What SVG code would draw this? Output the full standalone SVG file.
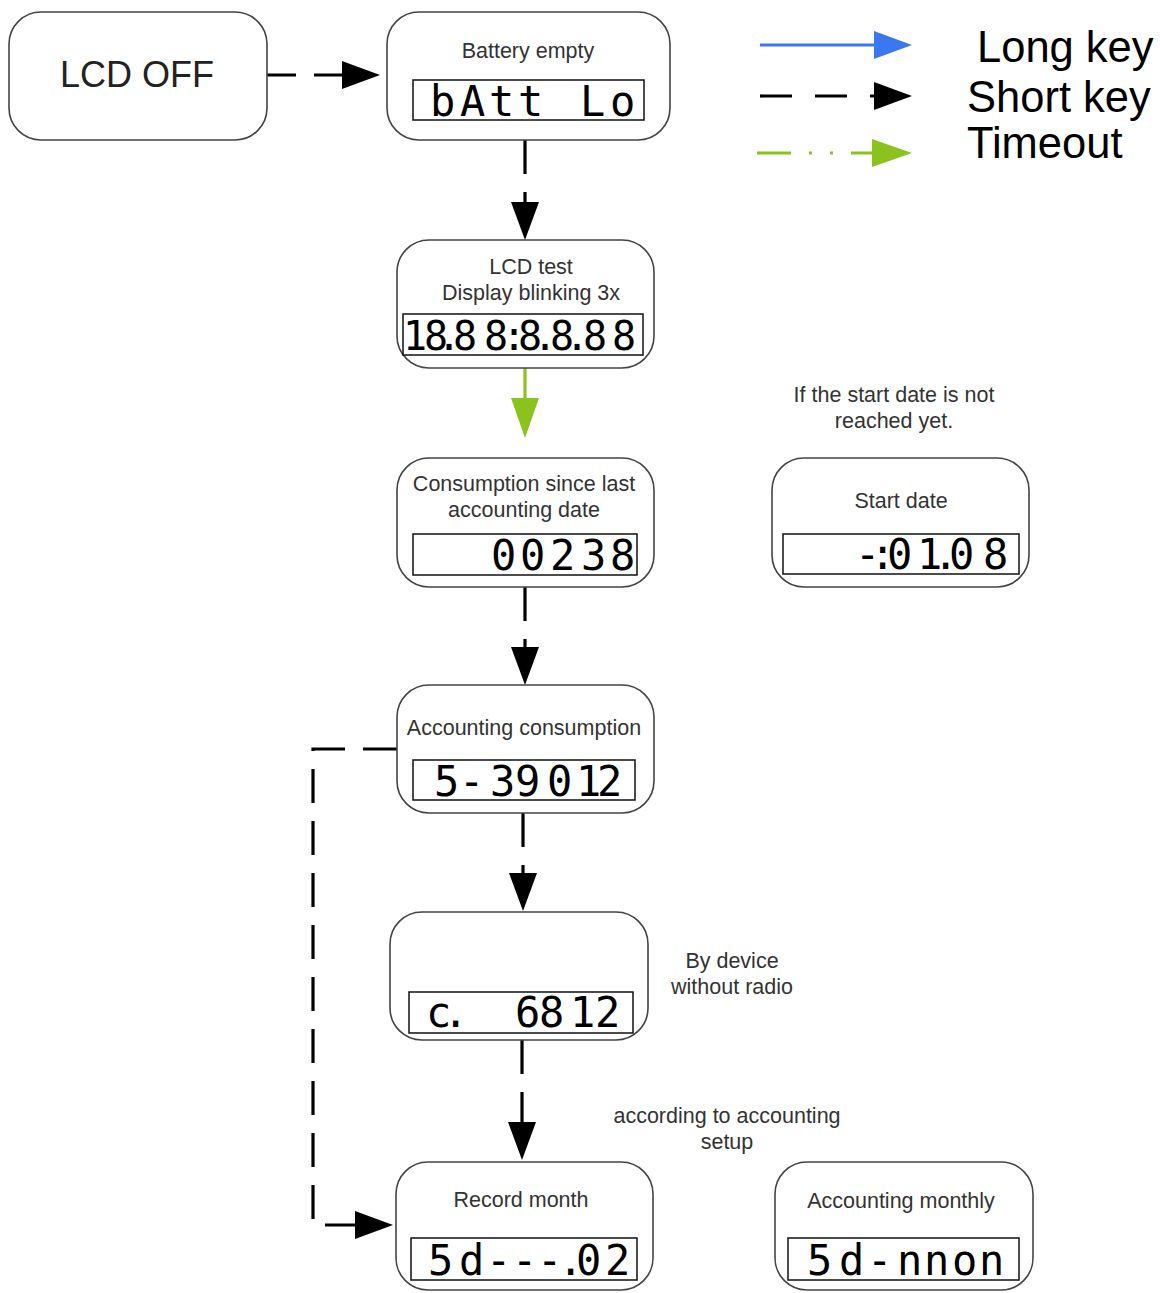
<svg xmlns="http://www.w3.org/2000/svg" width="1160" height="1293" viewBox="0 0 1160 1293">
<style>
.box{fill:#fff;stroke:#444;stroke-width:1.6}
.lcd{fill:#fff;stroke:#111;stroke-width:1.5}
.lbl{font-family:"Liberation Sans",Arial,sans-serif;font-size:21.5px;fill:#333;text-anchor:middle}
.seg{font-family:"DejaVu Sans Mono","Liberation Mono",monospace;font-size:42px;fill:#000}
.leg{font-family:"Liberation Sans",Arial,sans-serif;font-size:43.5px;fill:#000}
.short{fill:none;stroke:#000;stroke-width:3.2;stroke-dasharray:34 18}
.long{fill:none;stroke:#3b78f0;stroke-width:3.2}
.tout{fill:none;stroke:#8cc21e;stroke-width:3.2;stroke-dasharray:30 18 3 22 3 19}
</style>
<defs>
<marker id="ak" markerUnits="userSpaceOnUse" markerWidth="40" markerHeight="30" refX="28" refY="14" orient="auto"><path d="M0,0 L38,14 L0,28 Z" fill="#000"/></marker>
<marker id="ab" markerUnits="userSpaceOnUse" markerWidth="40" markerHeight="30" refX="28" refY="14" orient="auto"><path d="M0,0 L38,14 L0,28 Z" fill="#3b78f0"/></marker>
<marker id="ag" markerUnits="userSpaceOnUse" markerWidth="42" markerHeight="30" refX="30" refY="14" orient="auto"><path d="M0,0 L40,14 L0,28 Z" fill="#8cc21e"/></marker>
</defs>
<rect width="1160" height="1293" fill="#fff"/>

<g id="connectors">
<path class="short" d="M262,75 H370" marker-end="url(#ak)"/>
<path class="short" d="M525,140 V230" marker-end="url(#ak)"/>
<path class="tout" d="M525,368 V428" marker-end="url(#ag)"/>
<path class="short" d="M525,587 V675" marker-end="url(#ak)"/>
<path class="short" d="M523,813 V901" marker-end="url(#ak)"/>
<path class="short" d="M522,1040 V1150" marker-end="url(#ak)"/>
<path class="short" d="M397,749 H313 V1225 H383" marker-end="url(#ak)"/>
</g>

<g id="legend">
<path class="long" d="M760,45 H902" marker-end="url(#ab)"/>
<path fill="none" stroke="#000" stroke-width="3.2" stroke-dasharray="32 23" d="M760,96 H902" marker-end="url(#ak)"/>
<path fill="none" stroke="#8cc21e" stroke-width="3.2" stroke-dasharray="34 18 3 18 3 18" d="M757,153 H902" marker-end="url(#ag)"/>
<text class="leg" x="977" y="62">Long key</text>
<text class="leg" x="967" y="112">Short key</text>
<text class="leg" x="967" y="158">Timeout</text>
</g>

<g id="lcd-off">
<rect class="box" x="9" y="12" width="258" height="128" rx="32"/>
<text x="137" y="87" style="font-family:'Liberation Sans',Arial,sans-serif;font-size:36px;fill:#222;text-anchor:middle">LCD OFF</text>
</g>

<g id="battery-empty">
<rect class="box" x="387" y="12" width="283" height="128" rx="32"/>
<text class="lbl" x="528" y="58">Battery empty</text>
<rect class="lcd" x="413" y="80" width="231" height="40"/>
<text class="seg" x="430 460 489 518 548 580 610" y="116">bAtt Lo</text>
</g>

<g id="lcd-test">
<rect class="box" x="397" y="240" width="257" height="128" rx="32"/>
<text class="lbl" x="531" y="274">LCD test</text>
<text class="lbl" x="531" y="300">Display blinking 3x</text>
<rect class="lcd" x="403" y="314" width="240" height="41"/>
<text class="seg" style="font-size:40px" x="403 424 437 453 484 502 518 533 550 565 583 612" y="350">18.88:8.8.88</text>
</g>

<g id="consumption">
<rect class="box" x="397" y="458" width="257" height="129" rx="32"/>
<text class="lbl" x="524" y="491">Consumption since last</text>
<text class="lbl" x="524" y="517">accounting date</text>
<rect class="lcd" x="413" y="534" width="224" height="41"/>
<text class="seg" x="491 520 550 581 610" y="570">00238</text>
</g>

<g id="start-note">
<text class="lbl" x="894" y="402">If the start date is not</text>
<text class="lbl" x="894" y="428">reached yet.</text>
</g>

<g id="start-date">
<rect class="box" x="772" y="458" width="257" height="129" rx="32"/>
<text class="lbl" x="901" y="508">Start date</text>
<rect class="lcd" x="783" y="534" width="236" height="40"/>
<text class="seg" x="855 870 887 917 933 949 983" y="569">-:01.08</text>
</g>

<g id="accounting-consumption">
<rect class="box" x="397" y="685" width="257" height="128" rx="32"/>
<text class="lbl" x="524" y="735">Accounting consumption</text>
<rect class="lcd" x="413" y="760" width="222" height="40"/>
<text class="seg" x="434 459 490 515 547 576 597" y="796">5-39012</text>
</g>

<g id="c-display">
<rect class="box" x="390" y="912" width="258" height="128" rx="32"/>
<rect class="lcd" x="409" y="992" width="224" height="41"/>
<text class="seg" x="426 443 515 539 570 595" y="1027">c.6812</text>
</g>

<g id="radio-note">
<text class="lbl" x="732" y="968">By device</text>
<text class="lbl" x="732" y="994">without radio</text>
</g>

<g id="setup-note">
<text class="lbl" x="727" y="1123">according to accounting</text>
<text class="lbl" x="727" y="1149">setup</text>
</g>

<g id="record-month">
<rect class="box" x="396" y="1162" width="257" height="128" rx="32"/>
<text class="lbl" x="521" y="1207">Record month</text>
<rect class="lcd" x="411" y="1238" width="226" height="42"/>
<text class="seg" x="428 459 486 512 537 558 576 605" y="1275">5d---.02</text>
</g>

<g id="accounting-monthly">
<rect class="box" x="775" y="1162" width="258" height="128" rx="32"/>
<text class="lbl" x="901" y="1208">Accounting monthly</text>
<rect class="lcd" x="788" y="1238" width="231" height="42"/>
<text class="seg" x="807 839 867 897 924 952 979" y="1275">5d-nnon</text>
</g>
</svg>
